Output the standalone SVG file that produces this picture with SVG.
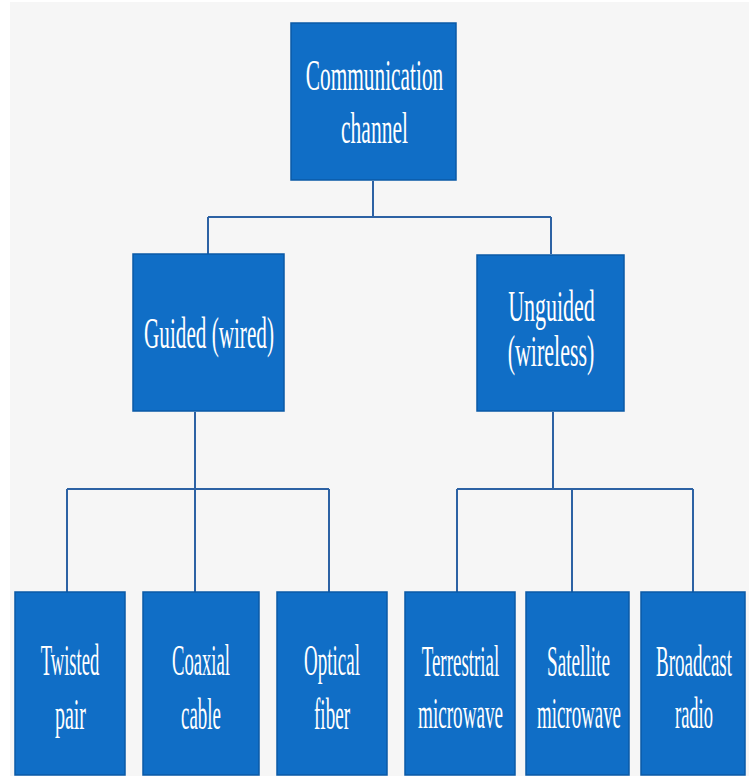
<svg xmlns="http://www.w3.org/2000/svg" width="749" height="776" viewBox="0 0 749 776">
<style>
.box{fill:#106ec6;stroke:#0a5aa6;stroke-width:1.5}
.t{font-family:"Liberation Serif","Times New Roman",serif;font-size:44px;fill:#ffffff;text-anchor:middle}
.c{fill:none;stroke:#2d62a4;stroke-width:2}
</style>
<rect x="0" y="0" width="749" height="776" fill="#ffffff"/>
<rect x="10" y="2" width="739" height="774" fill="#f6f6f6"/>
<g id="connectors">
<path class="c" d="M373,181 V217 M208,217 H551 M208,217 V254 M551,217 V254"/>
<path class="c" d="M195,412 V489 M67,489 H329 M67,489 V592 M195,489 V592 M329,489 V592"/>
<path class="c" d="M553,412 V489 M457,489 H693 M457,489 V592 M572,489 V592 M693,489 V592"/>
</g>
<g id="communication-channel">
<rect class="box" x="291" y="23" width="165" height="157"/>
<text class="t" font-size="42" transform="translate(374.5,90) scale(0.485,1)">Communication</text>
<text class="t" font-size="42" transform="translate(374.5,143) scale(0.49,1)">channel</text>
</g>
<g id="guided">
<rect class="box" x="133" y="254" width="151" height="157"/>
<text class="t" transform="translate(209,348) scale(0.481,1)">Guided (wired)</text>
</g>
<g id="unguided">
<rect class="box" x="477" y="255" width="147" height="156"/>
<text class="t" font-size="40" transform="translate(551.5,321) scale(0.5,1)">Unguided</text>
<text class="t" font-size="40" transform="translate(551,366) scale(0.5,1)">(wireless)</text>
</g>
<g id="twisted-pair">
<rect class="box" x="15" y="592" width="110" height="183"/>
<text class="t" transform="translate(70,675) scale(0.423,1)">Twisted</text>
<text class="t" transform="translate(70.5,729) scale(0.453,1)">pair</text>
</g>
<g id="coaxial-cable">
<rect class="box" x="143" y="592" width="116" height="183"/>
<text class="t" transform="translate(201,675) scale(0.424,1)">Coaxial</text>
<text class="t" transform="translate(201,729) scale(0.431,1)">cable</text>
</g>
<g id="optical-fiber">
<rect class="box" x="277" y="592" width="110" height="183"/>
<text class="t" transform="translate(332,675) scale(0.432,1)">Optical</text>
<text class="t" transform="translate(332,729) scale(0.433,1)">fiber</text>
</g>
<g id="terrestrial-microwave">
<rect class="box" x="405" y="592" width="110" height="183"/>
<text class="t" transform="translate(460.5,676) scale(0.431,1)">Terrestrial</text>
<text class="t" transform="translate(460.5,728) scale(0.435,1)">microwave</text>
</g>
<g id="satellite-microwave">
<rect class="box" x="526" y="592" width="103" height="183"/>
<text class="t" transform="translate(578.5,676) scale(0.437,1)">Satellite</text>
<text class="t" transform="translate(579,728) scale(0.430,1)">microwave</text>
</g>
<g id="broadcast-radio">
<rect class="box" x="641" y="592" width="104" height="183"/>
<text class="t" transform="translate(694,676) scale(0.432,1)">Broadcast</text>
<text class="t" transform="translate(694,728) scale(0.42,1)">radio</text>
</g>
</svg>
